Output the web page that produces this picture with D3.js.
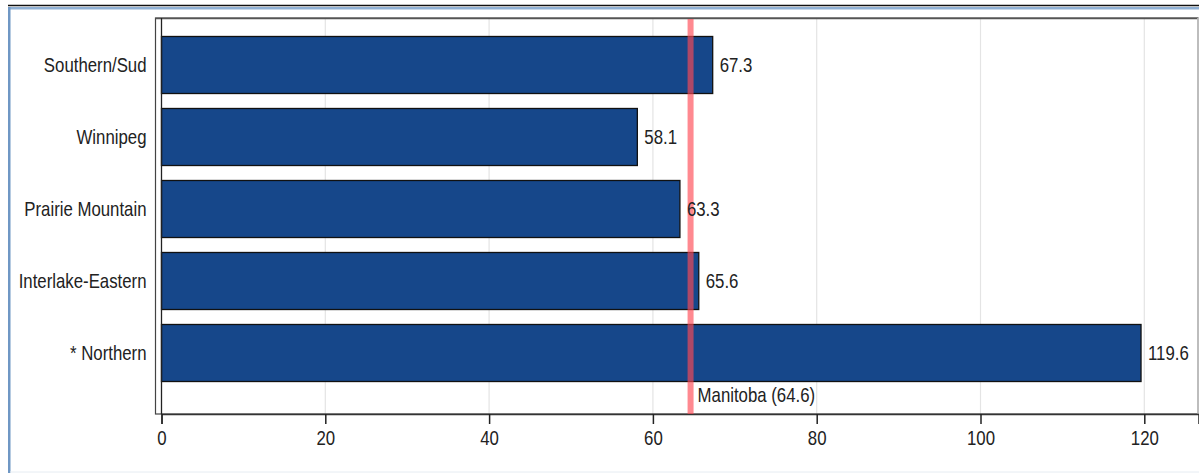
<!DOCTYPE html>
<html><head><meta charset="utf-8">
<script src="https://cdn.jsdelivr.net/npm/d3@7"></script>
<style>html,body{margin:0;padding:0;background:#fff;}svg{display:block;}</style>
</head><body>
<svg id="chart" width="1199" height="473"></svg>
<script>
const categories = ["Southern/Sud", "Winnipeg", "Prairie Mountain", "Interlake-Eastern", "* Northern"];
const values = [67.3, 58.1, 63.3, 65.6, 119.6];
const valueLabels = ["67.3", "58.1", "63.3", "65.6", "119.6"];
const xTicks = [0, 20, 40, 60, 80, 100, 120];
const referenceValue = 64.6;
const referenceLabel = "Manitoba (64.6)";

const svg = d3.select("#chart");
const font = "'Liberation Sans', Arial, sans-serif";
const fs = 16.8;
const stretch = 1.22;

// outer page frame
svg.append("line").attr("x1", 8).attr("x2", 1199).attr("y1", 5.5).attr("y2", 5.5).attr("stroke", "#111").attr("stroke-width", 1.5);
svg.append("rect").attr("x", 8).attr("y", 7).attr("width", 1191).attr("height", 2.5).attr("fill", "#8fb0d4");
svg.append("rect").attr("x", 8).attr("y", 7).attr("width", 2.5).attr("height", 466).attr("fill", "#6f97c4");
svg.append("line").attr("x1", 10).attr("x2", 1199).attr("y1", 472).attr("y2", 472).attr("stroke", "#e6ecf2").attr("stroke-width", 1);

const frame = {left: 155.5, right: 1198, top: 18, bottom: 414};
const x = d3.scaleLinear().domain([0, 126.6]).range([161.5, 161.5 + 126.6 * 8.19]);
const y = d3.scaleBand().domain(categories).range([29, 389]).paddingInner(0.208).paddingOuter(0.104);

// gridlines
svg.append("g").selectAll("line").data(xTicks.filter(d => d > 0)).join("line")
  .attr("x1", d => x(d)).attr("x2", d => x(d))
  .attr("y1", frame.top).attr("y2", frame.bottom)
  .attr("stroke", "#e4e4e4").attr("stroke-width", 1.2);

// frame
svg.append("rect").attr("x", frame.left).attr("y", frame.top)
  .attr("width", frame.right - frame.left).attr("height", frame.bottom - frame.top)
  .attr("fill", "none").attr("stroke", "#444").attr("stroke-width", 1.2);
svg.append("line").attr("x1", frame.left).attr("x2", frame.right).attr("y1", frame.top + 0.5).attr("y2", frame.top + 0.5)
  .attr("stroke", "#555").attr("stroke-width", 1.5);
svg.append("line").attr("x1", frame.right).attr("x2", frame.right).attr("y1", frame.top).attr("y2", frame.bottom)
  .attr("stroke", "#ccc").attr("stroke-width", 1.5);

// bars
svg.append("g").selectAll("rect").data(categories).join("rect")
  .attr("x", x(0)).attr("y", d => y(d))
  .attr("width", (d, i) => x(values[i]) - x(0)).attr("height", y.bandwidth())
  .attr("fill", "#16478a").attr("stroke", "#111").attr("stroke-width", 1.3);

// y axis line at zero
svg.append("line").attr("x1", x(0)).attr("x2", x(0)).attr("y1", frame.top).attr("y2", frame.bottom)
  .attr("stroke", "#222").attr("stroke-width", 1.3);

// x axis
const xAxis = svg.append("g").attr("transform", `translate(0,${frame.bottom})`)
  .call(d3.axisBottom(x).tickValues(xTicks).tickSize(10).tickFormat(d3.format("d")));
xAxis.select(".domain").attr("stroke", "#333").attr("stroke-width", 1.3);
xAxis.selectAll(".tick line").attr("stroke", "#222").attr("stroke-width", 1.5);
xAxis.selectAll("text").attr("font-family", font).attr("font-size", fs).attr("fill", "#222")
  .attr("y", 0).attr("dy", "0.71em").attr("transform", `translate(0,16) scale(1,${stretch})`);

// y axis labels
const yAxis = svg.append("g").attr("transform", `translate(${frame.left},0)`)
  .call(d3.axisLeft(y).tickSize(0));
yAxis.select(".domain").remove();
yAxis.selectAll("text").attr("font-family", font).attr("font-size", fs).attr("fill", "#222")
  .attr("x", 0).attr("dy", "0.35em").attr("transform", `translate(-9,0) scale(1,${stretch})`);

// reference line
svg.append("line").attr("x1", x(referenceValue)).attr("x2", x(referenceValue))
  .attr("y1", frame.top + 1).attr("y2", frame.bottom)
  .attr("stroke", "#ff4a55").attr("stroke-opacity", 0.65).attr("stroke-width", 6);
svg.append("text").attr("transform", `translate(${x(referenceValue) + 7},395) scale(1,${stretch})`)
  .attr("dy", "0.35em")
  .attr("font-family", font).attr("font-size", fs).attr("fill", "#222").text(referenceLabel);

// value labels
svg.append("g").selectAll("text").data(categories).join("text")
  .attr("transform", (d, i) => `translate(${x(values[i]) + 7},${y(d) + y.bandwidth() / 2}) scale(1,${stretch})`)
  .attr("dy", "0.35em")
  .attr("font-family", font).attr("font-size", fs).attr("fill", "#222")
  .text((d, i) => valueLabels[i]);
</script>
</body></html>
